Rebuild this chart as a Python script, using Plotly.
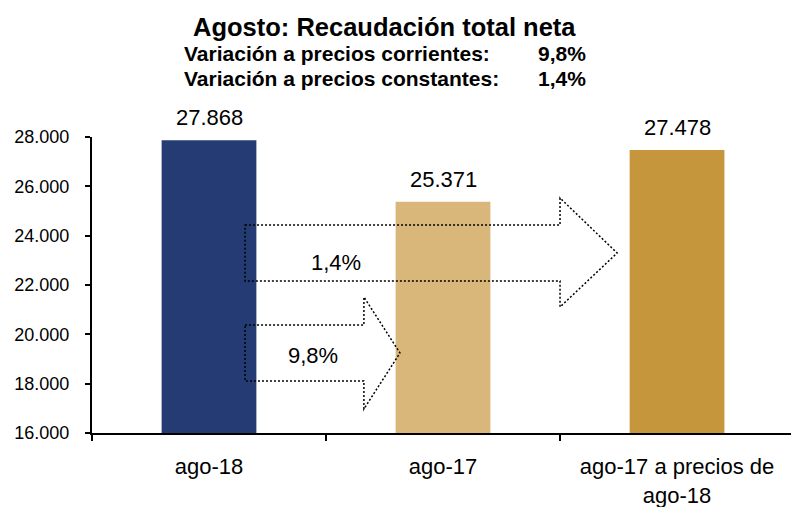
import plotly.graph_objects as go

# ---- data ----
categories = ["ago-18", "ago-17", "ago-17 a precios de<br>ago-18"]
values = [27868, 25371, 27478]
bar_colors = ["#253B74", "#D9B77B", "#C5963C"]
title_text = "Agosto: Recaudación total neta"
sub_labels = ["Variación a precios corrientes:", "Variación a precios constantes:"]
sub_values = ["9,8%", "1,4%"]
arrow_labels = ["1,4%", "9,8%"]
y_ticks = [16000, 18000, 20000, 22000, 24000, 26000, 28000]

FONT = "Liberation Sans, Arial, sans-serif"

fig = go.Figure()
fig.add_trace(go.Bar(
    x=categories, y=values, marker=dict(color=bar_colors, line=dict(width=0)),
    hoverinfo="skip", showlegend=False,
))

# value labels above bars
for c, v in zip(categories, values):
    fig.add_annotation(x=c, y=v, xref="x", yref="y", text=f"{v:,}".replace(",", "."),
                       showarrow=False, yanchor="bottom", yshift=8,
                       font=dict(family=FONT, size=22, color="black"))

# arrows (dotted outline, no fill) drawn in data units
def arrow_path(x0, yb0, yb1, xh, yh0, yh1, xt, yt):
    return (f"M {x0} {yb1} L {xh} {yb1} L {xh} {yh1} L {xt} {yt} "
            f"L {xh} {yh0} L {xh} {yb0} L {x0} {yb0} Z")

line_style = dict(color="black", width=1.5, dash="2px,2px")
fig.add_shape(type="path", xref="x", yref="y", layer="above",
              path=arrow_path(0.154, 22162, 24432, 1.5, 21108, 25527, 1.744, 23297),
              line=line_style, fillcolor="rgba(0,0,0,0)")
fig.add_shape(type="path", xref="x", yref="y", layer="above",
              path=arrow_path(0.154, 18108, 20378, 0.662, 16973, 21513, 0.816, 19243),
              line=line_style, fillcolor="rgba(0,0,0,0)")
fig.add_annotation(x=0.543, y=22932, xref="x", yref="y", text=arrow_labels[0], showarrow=False,
                   font=dict(family=FONT, size=22, color="black"))
fig.add_annotation(x=0.444, y=19162, xref="x", yref="y", text=arrow_labels[1], showarrow=False,
                   font=dict(family=FONT, size=22, color="black"))

# titles
fig.add_annotation(x=0.419, y=1.372, xref="paper", yref="paper", text=f"<b>{title_text}</b>",
                   showarrow=False, xanchor="center", yanchor="middle",
                   font=dict(family=FONT, size=25.5, color="black"))
for i, (lab, val) in enumerate(zip(sub_labels, sub_values)):
    yy = [1.282, 1.198][i]
    fig.add_annotation(x=0.1288, y=yy, xref="paper", yref="paper", text=f"<b>{lab}</b>",
                       showarrow=False, xanchor="left", yanchor="middle",
                       font=dict(family=FONT, size=21, color="black"))
    fig.add_annotation(x=0.7096, y=yy, xref="paper", yref="paper", text=f"<b>{val}</b>",
                       showarrow=False, xanchor="right", yanchor="middle",
                       font=dict(family=FONT, size=21, color="black"))

fig.update_layout(
    width=791, height=507,
    margin=dict(l=92, r=0, t=137, b=74, autoexpand=False),
    paper_bgcolor="white", plot_bgcolor="white",
    separators=",.",
    bargap=0.595,
    font=dict(family=FONT, color="black"),
    xaxis=dict(range=[-0.5, 2.487], showline=True, linecolor="black", linewidth=2,
               ticks="outside", tickson="boundaries", ticklen=6, tickcolor="black",
               tickwidth=1.5, showgrid=False, zeroline=False,
               tickfont=dict(family=FONT, size=22, color="black"),
               ticklabelstandoff=13, automargin=False, fixedrange=True),
    yaxis=dict(range=[16000, 28000], tickvals=y_ticks, tickformat=",.0f",
               showline=True, linecolor="black", linewidth=2,
               ticks="outside", ticklen=5, tickcolor="black", tickwidth=1.5,
               showgrid=False, zeroline=False,
               tickfont=dict(family=FONT, size=18, color="black"),
               ticklabelstandoff=12, automargin=False, fixedrange=True),
)

fig.write_html("out.html", config={"displayModeBar": False},
               post_script="document.body.style.margin='0';document.body.style.overflow='hidden';")
